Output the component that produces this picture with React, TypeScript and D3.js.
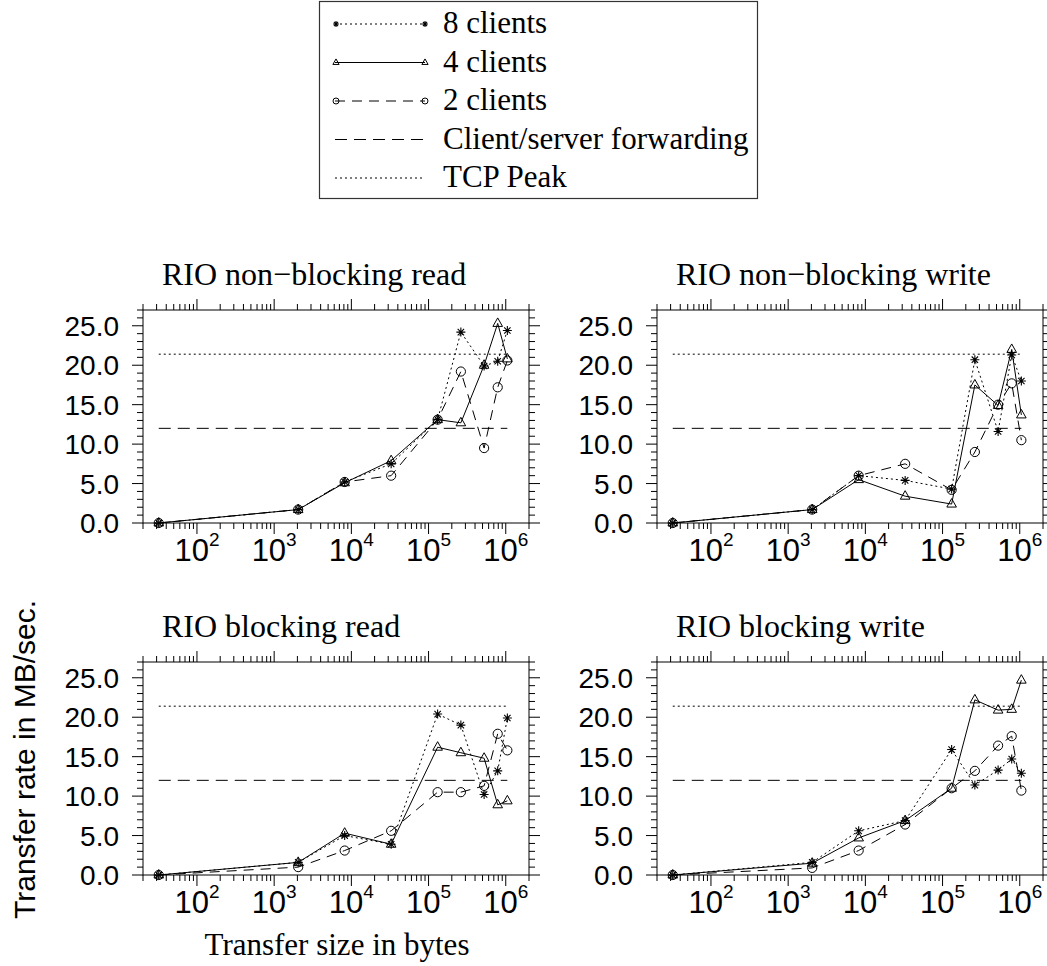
import React, { useEffect, useRef } from 'react';
import * as d3 from 'd3';

// transfer sizes in bytes
const sizes = [32, 2048, 8192, 32768, 131072, 262144, 524288, 786432, 1048576];

const nbRead8 = [0, 1.7, 5.2, 7.5, 13.1, 24.2, 19.9, 20.5, 24.4];
const nbRead4 = [0, 1.7, 5.1, 7.9, 13.1, 12.7, 20.0, 25.3, 20.8];
const nbRead2 = [0, 1.7, 5.2, 6.0, 13.1, 19.2, 9.5, 17.2, 20.6];

const nbWrite8 = [0, 1.7, 6.0, 5.4, 4.3, 20.7, 11.6, 21.3, 18.0];
const nbWrite4 = [0, 1.7, 5.5, 3.4, 2.4, 17.5, 14.9, 22.0, 13.7];
const nbWrite2 = [0, 1.7, 6.0, 7.5, 4.2, 9.0, 15.0, 17.7, 10.5];

const bRead8 = [0, 1.6, 5.0, 3.9, 20.4, 19.0, 10.2, 13.2, 19.9];
const bRead4 = [0, 1.6, 5.3, 3.9, 16.2, 15.5, 14.8, 8.9, 9.4];
const bRead2 = [0, 1.0, 3.1, 5.6, 10.5, 10.5, 11.3, 17.9, 15.8];

const bWrite8 = [0, 1.6, 5.6, 6.9, 15.9, 11.4, 13.3, 14.7, 12.9];
const bWrite4 = [0, 1.5, 4.7, 6.9, 11.0, 22.2, 20.9, 21.0, 24.7];
const bWrite2 = [0, 0.9, 3.1, 6.4, 11.0, 13.2, 16.4, 17.6, 10.7];

const tcpPeak = 21.4;
const forwarding = 12.0;

const titles = ['RIO non−blocking read', 'RIO non−blocking write', 'RIO blocking read', 'RIO blocking write'];
const yTickLabels = ['0.0', '5.0', '10.0', '15.0', '20.0', '25.0'];
const xDecades = [2, 3, 4, 5, 6];
const legendLabels = ['8 clients', '4 clients', '2 clients', 'Client/server forwarding', 'TCP Peak'];

const SERIF = 'Liberation Serif, Times New Roman, serif';
const SANS = 'Liberation Sans, Arial, Helvetica, sans-serif';

const drawMarker = (g, type, cx, cy, s = 1) => {
  if (type === 'star') {
    const a = 4.5 * s, b = 3.2 * s;
    g.append('path')
      .attr('d', `M${cx - a},${cy}H${cx + a}M${cx},${cy - a}V${cy + a}M${cx - b},${cy - b}L${cx + b},${cy + b}M${cx - b},${cy + b}L${cx + b},${cy - b}`)
      .attr('stroke', '#000').attr('stroke-width', 1.1).attr('fill', 'none');
  } else if (type === 'tri') {
    g.append('path')
      .attr('d', `M${cx},${cy - 5.5 * s}L${cx + 4.8 * s},${cy + 3 * s}L${cx - 4.8 * s},${cy + 3 * s}Z`)
      .attr('stroke', '#000').attr('stroke-width', 1).attr('fill', 'none');
  } else {
    g.append('circle').attr('cx', cx).attr('cy', cy).attr('r', 4.6 * s)
      .attr('stroke', '#000').attr('stroke-width', 1).attr('fill', 'none');
  }
};

const App = () => {
  const svgRef = useRef(null);
  const width = 1047;
  const height = 966;

  useEffect(() => {
    const svg = d3.select(svgRef.current);
    svg.selectAll('*').remove();

    const panels = [
      { c8: nbRead8, c4: nbRead4, c2: nbRead2 },
      { c8: nbWrite8, c4: nbWrite4, c2: nbWrite2 },
      { c8: bRead8, c4: bRead4, c2: bRead2 },
      { c8: bWrite8, c4: bWrite4, c2: bWrite2 },
    ];

    const pw = 386, ph = 213;
    const x = d3.scaleLog().domain([20, 2e6]).range([0, pw]);
    const y = d3.scaleLinear().domain([0, 27]).range([ph, 0]);

    const series = [
      { key: 'c8', dash: '2,3', marker: 'star' },
      { key: 'c4', dash: null, marker: 'tri' },
      { key: 'c2', dash: '10,7', marker: 'circ' },
    ];

    const line = d3.line().x(d => x(d[0])).y(d => y(d[1]));

    // minor x ticks
    const xMinor = [];
    for (let k = 1; k <= 6; k++) {
      for (let m = 1; m <= 9; m++) {
        const v = m * Math.pow(10, k);
        if (v >= 20 && v <= 2e6) xMinor.push({ v, major: m === 1 });
      }
    }

    panels.forEach((p, i) => {
      const left = 143 + (i % 2) * 514;
      const top = 310 + Math.floor(i / 2) * 352;
      const g = svg.append('g').attr('transform', `translate(${left},${top})`);

      g.append('rect').attr('x', 0).attr('y', 0).attr('width', pw).attr('height', ph)
        .attr('fill', 'none').attr('stroke', '#000').attr('stroke-width', 1);

      // y ticks left and right
      d3.range(0, 28).forEach(v => {
        const len = v % 5 === 0 ? 11 : 6;
        g.append('line').attr('x1', 0).attr('x2', -len).attr('y1', y(v)).attr('y2', y(v)).attr('stroke', '#000');
        g.append('line').attr('x1', pw).attr('x2', pw + len).attr('y1', y(v)).attr('y2', y(v)).attr('stroke', '#000');
      });
      yTickLabels.forEach((lab, j) => {
        g.append('text').attr('x', -24).attr('y', y(j * 5)).attr('dy', '0.36em')
          .attr('text-anchor', 'end').style('font-family', SANS).style('font-size', '28px')
          .text(lab);
      });

      // x ticks bottom and top
      xMinor.forEach(t => {
        const len = t.major ? 11 : 6;
        g.append('line').attr('x1', x(t.v)).attr('x2', x(t.v)).attr('y1', ph).attr('y2', ph + len).attr('stroke', '#000');
        g.append('line').attr('x1', x(t.v)).attr('x2', x(t.v)).attr('y1', 0).attr('y2', -len).attr('stroke', '#000');
      });
      xDecades.forEach(k => {
        const t = g.append('text').attr('x', x(Math.pow(10, k))).attr('y', ph + 38)
          .attr('text-anchor', 'middle').style('font-family', SANS).style('font-size', '31px');
        t.append('tspan').text('10');
        t.append('tspan').attr('dy', -15).style('font-size', '19px').text(String(k));
      });

      // title
      g.append('text').attr('x', 19).attr('y', -25)
        .style('font-family', SERIF).style('font-size', '32px').text(titles[i]);

      // reference lines
      const x0 = x(sizes[0]), x1 = x(sizes[sizes.length - 1]);
      g.append('line').attr('x1', x0).attr('x2', x1).attr('y1', y(tcpPeak)).attr('y2', y(tcpPeak))
        .attr('stroke', '#000').attr('stroke-dasharray', '2,3');
      g.append('line').attr('x1', x0).attr('x2', x1).attr('y1', y(forwarding)).attr('y2', y(forwarding))
        .attr('stroke', '#000').attr('stroke-dasharray', '12,7');

      series.forEach(s => {
        const pts = sizes.map((sz, j) => [sz, p[s.key][j]]);
        const path = g.append('path').attr('d', line(pts)).attr('fill', 'none')
          .attr('stroke', '#000').attr('stroke-width', 1);
        if (s.dash) path.attr('stroke-dasharray', s.dash);
        pts.forEach(d => drawMarker(g, s.marker, x(d[0]), y(d[1])));
      });
    });

    // axis titles
    svg.append('text').attr('x', 337).attr('y', 955).attr('text-anchor', 'middle')
      .style('font-family', SERIF).style('font-size', '31px').text('Transfer size in bytes');
    svg.append('text').attr('transform', 'translate(35,600) rotate(-90)').attr('text-anchor', 'end')
      .style('font-family', SANS).style('font-size', '30px').text('Transfer rate in MB/sec.');

    // legend
    const lg = svg.append('g');
    lg.append('rect').attr('x', 319.5).attr('y', 1.5).attr('width', 438).attr('height', 197)
      .attr('fill', '#fff').attr('stroke', '#333').attr('stroke-width', 1.2);
    const legendStyles = [
      { dash: '2,3', marker: 'star' },
      { dash: null, marker: 'tri' },
      { dash: '10,7', marker: 'circ' },
      { dash: '12,7', marker: null },
      { dash: '2,3', marker: null },
    ];
    legendLabels.forEach((lab, j) => {
      const base = 33 + j * 38.5;
      const ly = base - 9;
      const l = lg.append('line').attr('x1', 335).attr('x2', 425).attr('y1', ly).attr('y2', ly)
        .attr('stroke', '#000').attr('stroke-width', 1);
      if (legendStyles[j].dash) l.attr('stroke-dasharray', legendStyles[j].dash);
      if (legendStyles[j].marker) {
        drawMarker(lg, legendStyles[j].marker, 336, ly, 0.65);
        drawMarker(lg, legendStyles[j].marker, 425, ly, 0.65);
      }
      lg.append('text').attr('x', 443).attr('y', base)
        .style('font-family', SERIF).style('font-size', '31px').text(lab);
    });
  }, []);

  return (
    <svg ref={svgRef} width={width} height={height}
      style={{ position: 'absolute', left: 0, top: 0, background: '#fff' }} />
  );
};

export default App;
